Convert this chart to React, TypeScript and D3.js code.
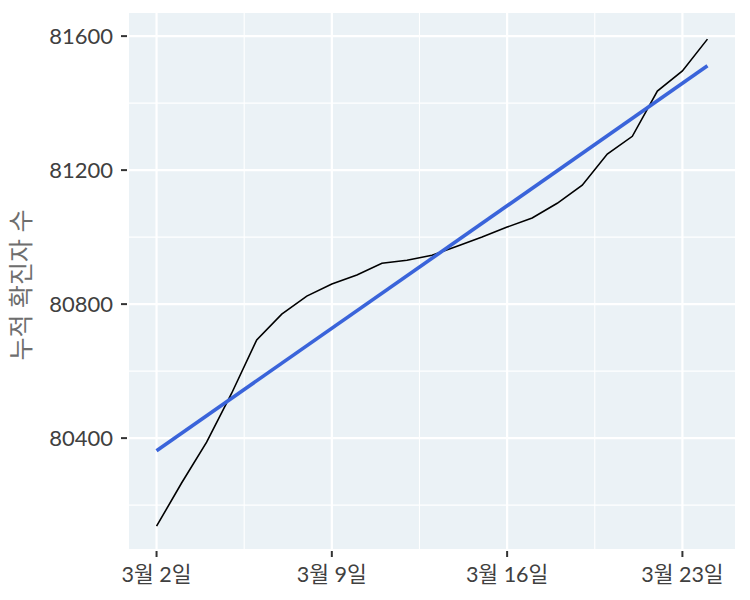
import React from 'react';
import * as d3 from 'd3';

// cumulative confirmed cases, March 2 .. March 24
const days = d3.range(2, 25);
const cumulative = [
  80137, 80266, 80388, 80534, 80693, 80770, 80824, 80860, 80887, 80922, 80931, 80946,
  80973, 81000, 81030, 81057, 81101, 81155, 81248, 81301, 81436, 81496, 81591,
];
const xTickDays = [2, 9, 16, 23];
const xMinorDays = [5.5, 12.5, 19.5];
const yTicks = [80400, 80800, 81200, 81600];
const yMinor = [80200, 80600, 81000, 81400];

const colors = {
  panel: '#EBF2F6',
  grid: '#FFFFFF',
  text: '#404040',
  title: '#6E6E6E',
  line: '#000000',
  fit: '#3A64DA',
};

const width = 750;
const height = 600;
const margin = { top: 13, right: 15, bottom: 51, left: 129 };

export default function App() {
  const x = d3.scaleLinear().domain([2 - 1.1, 24 + 1.1]).range([margin.left, width - margin.right]);
  const y = d3.scaleLinear().domain([80069, 81669]).range([height - margin.bottom, margin.top]);

  const points = days.map((d, i) => ({ day: d, value: cumulative[i] }));

  // least squares fit (geom_smooth, method = lm)
  const mx = d3.mean(days) as number;
  const my = d3.mean(cumulative) as number;
  const slope =
    d3.sum(points, p => (p.day - mx) * (p.value - my)) / d3.sum(points, p => (p.day - mx) ** 2);
  const intercept = my - slope * mx;
  const fitPts = [days[0], days[days.length - 1]].map(d => ({ day: d, value: intercept + slope * d }));

  const line = d3.line<{ day: number; value: number }>().x(p => x(p.day)).y(p => y(p.value));

  const [x0, x1] = x.range();
  const [y0, y1] = y.range();
  const font = 'Lato, "Noto Sans CJK KR", sans-serif';

  return (
    <div style={{ position: 'absolute', left: 0, top: 0 }}>
      <svg width={width} height={height} style={{ display: 'block', background: '#fff' }}>
        <rect x={x0} y={y1} width={x1 - x0} height={y0 - y1} fill={colors.panel} />
        {/* minor grid */}
        {yMinor.map(v => (
          <line key={'ym' + v} x1={x0} x2={x1} y1={y(v)} y2={y(v)} stroke={colors.grid} strokeWidth={1.1} />
        ))}
        {xMinorDays.map(d => (
          <line key={'xm' + d} x1={x(d)} x2={x(d)} y1={y0} y2={y1} stroke={colors.grid} strokeWidth={1.1} />
        ))}
        {/* major grid */}
        {yTicks.map(v => (
          <line key={'yg' + v} x1={x0} x2={x1} y1={y(v)} y2={y(v)} stroke={colors.grid} strokeWidth={2.2} />
        ))}
        {xTickDays.map(d => (
          <line key={'xg' + d} x1={x(d)} x2={x(d)} y1={y0} y2={y1} stroke={colors.grid} strokeWidth={2.2} />
        ))}

        <path d={line(points) || ''} fill="none" stroke={colors.line} strokeWidth={1.6} />
        <path d={line(fitPts) || ''} fill="none" stroke={colors.fit} strokeWidth={3.6} />

        {/* y axis */}
        {yTicks.map(v => (
          <g key={'yt' + v}>
            <line x1={x0 - 8} x2={x0 - 2} y1={y(v)} y2={y(v)} stroke="#333" strokeWidth={2} />
            <text
              x={x0 - 16}
              y={y(v)}
              dy="0.36em"
              textAnchor="end"
              fontFamily={font}
              fontSize={22}
              fill={colors.text}
            >
              {v}
            </text>
          </g>
        ))}
        {/* x axis */}
        {xTickDays.map(d => (
          <g key={'xt' + d}>
            <line x1={x(d)} x2={x(d)} y1={y0 + 2} y2={y0 + 8} stroke="#333" strokeWidth={2} />
            <text
              x={x(d)}
              y={y0 + 33}
              textAnchor="middle"
              fontFamily={font}
              fontSize={21.5}
              fill={colors.text}
            >
              {`3월 ${d}일`}
            </text>
          </g>
        ))}
        <text
          transform={`translate(30,${(y0 + y1) / 2 + 4}) rotate(-90)`}
          textAnchor="middle"
          fontFamily={font}
          fontSize={25}
          fill={colors.title}
        >
          누적 확진자 수
        </text>
      </svg>
    </div>
  );
}
